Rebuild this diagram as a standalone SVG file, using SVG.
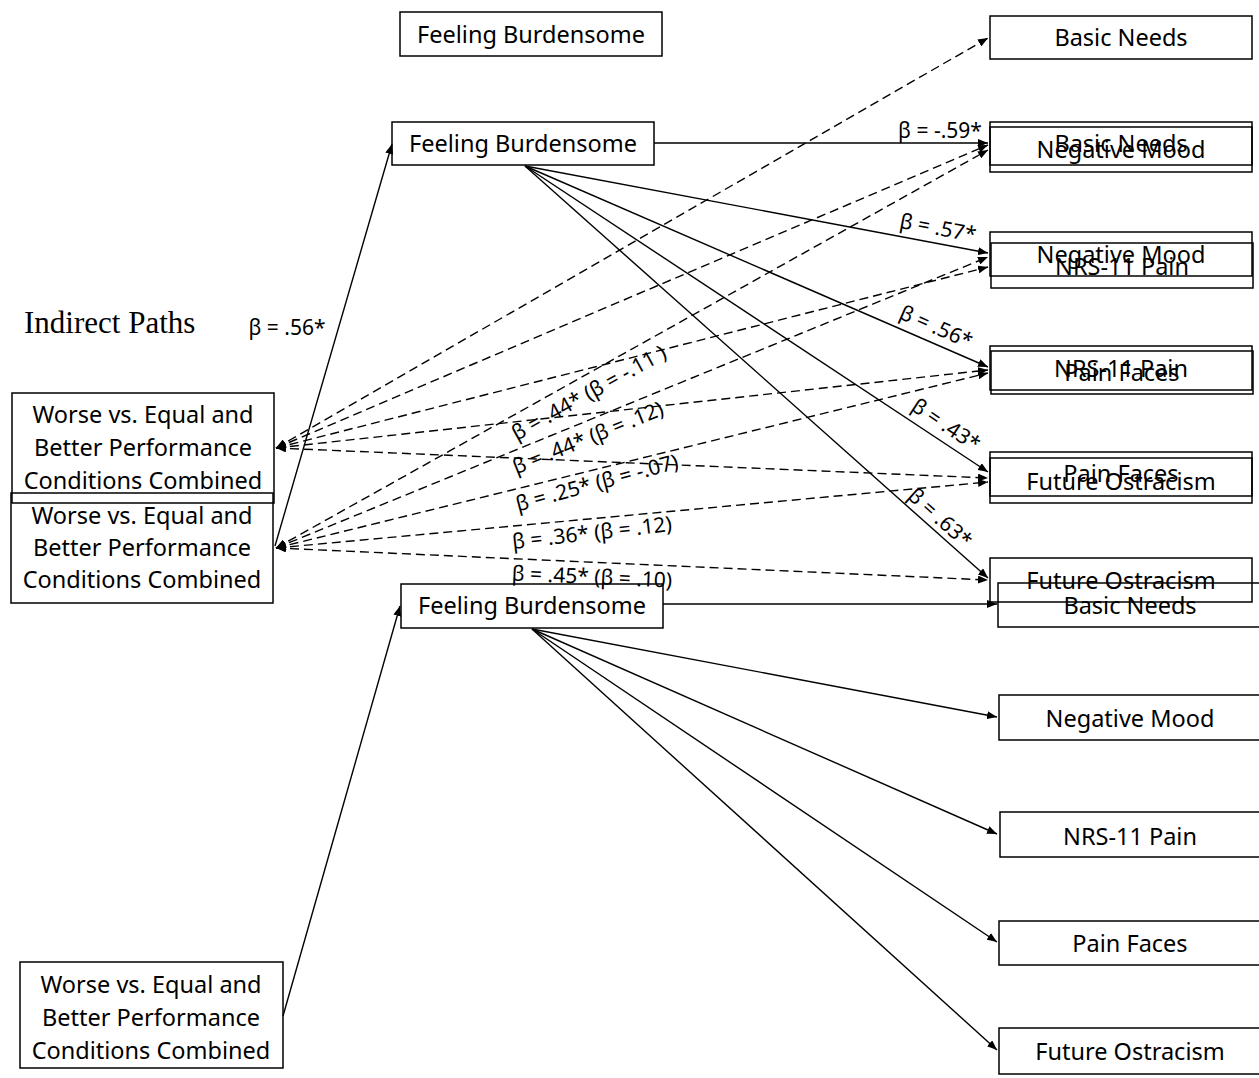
<svg xmlns="http://www.w3.org/2000/svg" width="1259" height="1078" viewBox="0 0 1259 1078">
<style>
.box{fill:none;stroke:#000;stroke-width:1.5}
.t{font-family:"Noto Sans","Open Sans",sans-serif;font-size:23.5px;fill:#000;text-anchor:middle}
.lbl{font-family:"Noto Sans","Open Sans",sans-serif;font-size:21px;fill:#000;text-anchor:middle}
.title{font-family:"Liberation Serif","Times New Roman",serif;font-size:31px;fill:#000}
.sol{stroke:#000;stroke-width:1.4;fill:none;marker-end:url(#ah)}
.dash{stroke:#000;stroke-width:1.4;fill:none;stroke-dasharray:9 5;marker-end:url(#ah);marker-start:url(#ah)}
</style>
<defs>
<marker id="ah" viewBox="0 0 10 8" refX="10" refY="4" markerWidth="10" markerHeight="8" markerUnits="userSpaceOnUse" orient="auto-start-reverse"><path d="M0,0 L10,4 L0,8 z" fill="#000"/></marker>
</defs>
<rect width="1259" height="1078" fill="#fff"/>

<text class="title" x="24" y="333">Indirect Paths</text>

<g id="connectors">
<line class="sol" x1="275" y1="546" x2="392" y2="144"/>
<line class="sol" x1="654" y1="143" x2="988" y2="143"/>
<line class="sol" x1="525" y1="166" x2="988" y2="253"/>
<line class="sol" x1="525" y1="166" x2="988" y2="367"/>
<line class="sol" x1="525" y1="166" x2="988" y2="472"/>
<line class="sol" x1="525" y1="166" x2="988" y2="578"/>
<line class="sol" x1="283" y1="1016" x2="400" y2="606"/>
<line class="sol" x1="663" y1="604" x2="997" y2="604"/>
<line class="sol" x1="532" y1="629" x2="997" y2="717"/>
<line class="sol" x1="532" y1="629" x2="997" y2="834"/>
<line class="sol" x1="532" y1="629" x2="997" y2="942"/>
<line class="sol" x1="532" y1="629" x2="997" y2="1050"/>

<line class="dash" x1="276" y1="448" x2="988" y2="38"/>
<line class="dash" x1="276" y1="448" x2="988" y2="145"/>
<line class="dash" x1="276" y1="448" x2="988" y2="267"/>
<line class="dash" x1="276" y1="448" x2="988" y2="370"/>
<line class="dash" x1="276" y1="448" x2="988" y2="478"/>
<line class="dash" x1="276" y1="548" x2="988" y2="150"/>
<line class="dash" x1="276" y1="548" x2="988" y2="257"/>
<line class="dash" x1="276" y1="548" x2="988" y2="373"/>
<line class="dash" x1="276" y1="548" x2="988" y2="482"/>
<line class="dash" x1="276" y1="548" x2="988" y2="580"/>

<text class="lbl" x="287" y="335">β = .56*</text>
<text class="lbl" x="940" y="138">β = -.59*</text>
<text class="lbl" transform="translate(938,228) rotate(10.8)" y="7">β = .57*</text>
<text class="lbl" transform="translate(936,327) rotate(23.6)" y="7">β = .56*</text>
<text class="lbl" transform="translate(946,425) rotate(33.5)" y="7">β = .43*</text>
<text class="lbl" transform="translate(940,518) rotate(41.7)" y="7">β = .63*</text>
<text class="lbl" transform="translate(589,393) rotate(-29)" y="7">β = .44* (β = -.11 )</text>
<text class="lbl" transform="translate(588,438) rotate(-22)" y="7">β = .44* (β = .12)</text>
<text class="lbl" transform="translate(597,483) rotate(-15)" y="7">β = .25* (β = -.07)</text>
<text class="lbl" transform="translate(592,533) rotate(-6.5)" y="7">β = .36* (β = .12)</text>
<text class="lbl" transform="translate(592,577) rotate(2.5)" y="7">β = .45* (β = .10)</text>
</g>

<g id="fb0"><rect class="box" x="400" y="12" width="262" height="44"/><text class="t" x="531" y="42.5">Feeling Burdensome</text></g>
<g id="fb1"><rect class="box" x="392" y="122" width="262" height="43"/><text class="t" x="523" y="152">Feeling Burdensome</text></g>
<g id="fb2"><rect class="box" x="401" y="584" width="262" height="44"/><text class="t" x="532" y="614">Feeling Burdensome</text></g>

<g id="left1"><rect class="box" x="12" y="393" width="262" height="110"/>
<text class="t" x="143" y="423">Worse vs. Equal and</text><text class="t" x="143" y="456">Better Performance</text><text class="t" x="143" y="489">Conditions Combined</text></g>
<g id="left2"><rect class="box" x="11" y="493" width="262" height="110"/>
<text class="t" x="142" y="524">Worse vs. Equal and</text><text class="t" x="142" y="556">Better Performance</text><text class="t" x="142" y="588">Conditions Combined</text></g>
<g id="left3"><rect class="box" x="20" y="962" width="263" height="106"/>
<text class="t" x="151" y="993">Worse vs. Equal and</text><text class="t" x="151" y="1026">Better Performance</text><text class="t" x="151" y="1059">Conditions Combined</text></g>

<g id="bn-a"><rect class="box" x="990" y="16" width="262" height="43"/><text class="t" x="1121" y="46">Basic Needs</text></g>
<g id="bn-b"><rect class="box" x="990" y="122" width="262" height="43"/><text class="t" x="1121" y="152">Basic Needs</text></g>
<g id="nm-b"><rect class="box" x="990" y="127" width="262" height="45"/><text class="t" x="1121" y="158">Negative Mood</text></g>
<g id="nm-c"><rect class="box" x="990" y="232" width="262" height="44"/><text class="t" x="1121" y="262.5">Negative Mood</text></g>
<g id="nrs-c"><rect class="box" x="991" y="243" width="262" height="45"/><text class="t" x="1122" y="274.5">NRS-11 Pain</text></g>
<g id="nrs-b"><rect class="box" x="990" y="346" width="262" height="44"/><text class="t" x="1121" y="376.5">NRS-11 Pain</text></g>
<g id="pf-c"><rect class="box" x="991" y="351" width="262" height="43"/><text class="t" x="1122" y="381">Pain Faces</text></g>
<g id="pf-b"><rect class="box" x="990" y="452" width="262" height="44"/><text class="t" x="1121" y="481.5">Pain Faces</text></g>
<g id="fo-c"><rect class="box" x="990" y="458" width="262" height="45"/><text class="t" x="1121" y="490">Future Ostracism</text></g>
<g id="fo-b"><rect class="box" x="990" y="558" width="262" height="44"/><text class="t" x="1121" y="588.5">Future Ostracism</text></g>

<g id="bn-d"><rect class="box" x="998" y="583" width="264" height="44"/><text class="t" x="1130" y="614">Basic Needs</text></g>
<g id="nm-d"><rect class="box" x="999" y="695" width="264" height="45"/><text class="t" x="1130" y="726.5">Negative Mood</text></g>
<g id="nrs-d"><rect class="box" x="1000" y="812" width="264" height="45"/><text class="t" x="1130" y="844.5">NRS-11 Pain</text></g>
<g id="pf-d"><rect class="box" x="999" y="921" width="264" height="44"/><text class="t" x="1130" y="951.5">Pain Faces</text></g>
<g id="fo-d"><rect class="box" x="999" y="1028" width="264" height="46"/><text class="t" x="1130" y="1060">Future Ostracism</text></g>
</svg>
